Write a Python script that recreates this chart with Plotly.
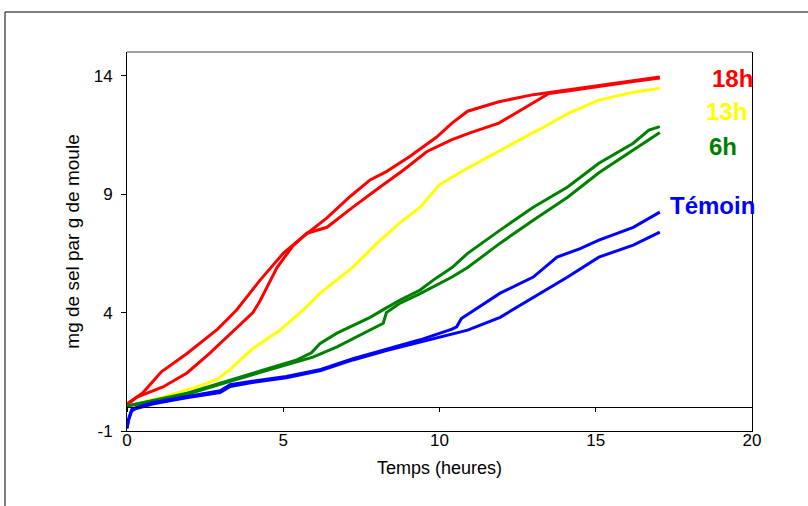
import plotly.graph_objects as go

# ---- data ----
red_a_t = [0, 0.5, 1.1, 1.9, 2.9, 3.5, 4.26, 5.0, 5.63, 6.4, 7.14, 7.78, 8.3, 9.06, 9.9, 10.4, 10.9, 11.9, 13.0, 14.1, 15.1, 16.2, 17.05]
red_a_v = [0.15, 0.6, 1.5, 2.25, 3.3, 4.1, 5.37, 6.5, 7.2, 8.0, 8.9, 9.6, 9.95, 10.6, 11.4, 12.0, 12.5, 12.9, 13.2, 13.4, 13.6, 13.8, 13.95]

red_b_t = [0, 0.32, 1.15, 1.92, 2.66, 3.3, 4.03, 4.26, 4.8, 5.3, 5.76, 6.4, 7.23, 8.1, 8.83, 9.6, 10.4, 11.0, 11.9, 12.8, 13.5, 14.1, 15.1, 16.2, 17.05]
red_b_v = [0.1, 0.43, 0.86, 1.45, 2.3, 3.1, 4.0, 4.5, 5.9, 6.8, 7.35, 7.6, 8.45, 9.3, 10.0, 10.8, 11.3, 11.6, 12.0, 12.7, 13.25, 13.35, 13.55, 13.75, 13.9]

yellow_t = [0, 1.15, 2.43, 2.9, 3.3, 4.0, 4.9, 5.63, 6.18, 7.23, 8.0, 8.74, 9.38, 10.0, 10.9, 11.94, 13.0, 13.3, 14.1, 15.1, 16.2, 17.05]
yellow_v = [0.05, 0.43, 0.95, 1.2, 1.6, 2.45, 3.26, 4.1, 4.82, 5.92, 6.93, 7.8, 8.45, 9.4, 10.1, 10.86, 11.6, 11.8, 12.4, 12.97, 13.3, 13.47]

green_a_t = [0, 1.0, 1.92, 3.3, 4.58, 5.44, 5.9, 6.18, 6.72, 7.78, 8.3, 8.74, 9.38, 9.8, 10.4, 10.9, 11.94, 13.0, 14.1, 15.1, 16.2, 16.7, 17.05]
green_a_v = [0.05, 0.35, 0.6, 1.15, 1.65, 2.0, 2.3, 2.7, 3.13, 3.8, 4.2, 4.53, 4.95, 5.37, 5.9, 6.5, 7.48, 8.45, 9.3, 10.3, 11.15, 11.7, 11.85]

green_b_t = [0, 1.0, 1.92, 3.3, 4.58, 5.44, 5.95, 6.72, 7.78, 8.2, 8.3, 8.74, 9.38, 9.8, 10.4, 10.9, 11.94, 13.0, 14.1, 15.1, 16.2, 17.05]
green_b_v = [0.05, 0.3, 0.55, 1.1, 1.6, 1.95, 2.12, 2.55, 3.26, 3.55, 4.0, 4.4, 4.8, 5.08, 5.5, 5.9, 6.93, 7.9, 8.87, 9.9, 10.86, 11.6]

blue_a_t = [0, 0.05, 0.15, 0.3, 0.85, 1.9, 2.98, 3.3, 4.0, 5.1, 6.2, 7.23, 8.3, 9.38, 10.4, 10.55, 10.7, 11.0, 11.94, 13.0, 13.76, 14.5, 15.1, 16.2, 16.6, 17.05]
blue_a_v = [-0.9, -0.5, -0.1, 0.0, 0.2, 0.45, 0.7, 0.95, 1.1, 1.3, 1.6, 2.05, 2.45, 2.85, 3.3, 3.4, 3.75, 4.0, 4.82, 5.5, 6.34, 6.7, 7.06, 7.6, 7.9, 8.24]

blue_b_t = [0, 0.05, 0.15, 0.3, 0.85, 1.9, 2.98, 3.3, 4.0, 5.1, 6.2, 7.23, 8.3, 9.38, 10.4, 10.9, 11.94, 13.0, 14.1, 15.1, 16.2, 17.05]
blue_b_v = [-0.85, -0.55, -0.15, -0.05, 0.15, 0.4, 0.62, 0.88, 1.05, 1.25, 1.55, 2.0, 2.4, 2.75, 3.1, 3.26, 3.8, 4.65, 5.5, 6.34, 6.85, 7.4]

y_tick_vals = [-1, 4, 9, 14]
y_tick_text = ["-1", "4", "9", "14"]
x_tick_vals = [0, 5, 10, 15, 20]
x_tick_text = ["0", "5", "10", "15", "20"]

labels = ["18h", "13h", "6h", "Témoin"]
label_colors = ["#FF0000", "#FFFF00", "#008000", "#0000FF"]
label_x = [19.39, 19.17, 19.07, 18.75]
label_y = [13.9, 12.5, 11.02, 8.53]

x_title = "Temps (heures)"
y_title = "mg de sel par g de moule"

FONT = "Liberation Sans, Arial, sans-serif"

series = [
    (red_a_t, red_a_v, "#FF0000"),
    (red_b_t, red_b_v, "#FF0000"),
    (yellow_t, yellow_v, "#FFFF00"),
    (green_a_t, green_a_v, "#008000"),
    (green_b_t, green_b_v, "#008000"),
    (blue_a_t, blue_a_v, "#0000FF"),
    (blue_b_t, blue_b_v, "#0000FF"),
]

fig = go.Figure()
for t, v, c in series:
    fig.add_trace(go.Scatter(x=t, y=v, mode="lines", line=dict(color=c, width=3),
                             showlegend=False, hoverinfo="skip"))

# dummy trace so the crossing axis at y=0 is drawn
fig.add_trace(go.Scatter(x=[None], y=[None], xaxis="x2", showlegend=False, hoverinfo="skip"))

for txt, col, lx, ly in zip(labels, label_colors, label_x, label_y):
    fig.add_annotation(x=lx, y=ly, xref="x", yref="y", text=f"<b>{txt}</b>", showarrow=False,
                       font=dict(family=FONT, size=24, color=col), xanchor="center", yanchor="middle")

fig.update_layout(
    width=808, height=506,
    margin=dict(l=127, r=56, t=52, b=75),
    paper_bgcolor="white", plot_bgcolor="white",
    font=dict(family=FONT, size=17, color="black"),
    xaxis=dict(range=[0, 20], tickmode="array", tickvals=x_tick_vals, ticktext=x_tick_text,
               showgrid=False, zeroline=False,
               showline=True, linecolor="black", linewidth=1, ticks="", ticklen=0,
               ticklabelstandoff=-6,
               tickfont=dict(size=17), title=dict(text=x_title, font=dict(size=18), standoff=11)),
    xaxis2=dict(range=[0, 20], tickmode="array", tickvals=x_tick_vals, overlaying="x",
                anchor="free", position=1/16,
                showgrid=False, zeroline=False, showline=True, linecolor="black", linewidth=1,
                ticks="outside", ticklen=4, tickcolor="black", showticklabels=False),
    yaxis=dict(range=[-1, 15], tickmode="array", tickvals=y_tick_vals, ticktext=y_tick_text,
               showgrid=False, zeroline=False,
               showline=True, linecolor="black", linewidth=1, mirror=True,
               ticks="outside", ticklen=5, tickcolor="black", tickfont=dict(size=17),
               ticklabelstandoff=5,
               title=dict(text=y_title, font=dict(size=19), standoff=9)),
    shapes=[
        dict(type="line", xref="paper", yref="paper", x0=0, x1=1, y0=1, y1=1,
             line=dict(color="#808080", width=1.5)),
        dict(type="rect", xref="paper", yref="paper", x0=-0.1952, x1=1.12, y0=-0.25, y1=1.1055,
             line=dict(color="black", width=1), fillcolor="rgba(0,0,0,0)", layer="below"),
    ],
)

fig.write_html("out.html", config={"displayModeBar": False},
               post_script="document.body.style.margin='0px';")
